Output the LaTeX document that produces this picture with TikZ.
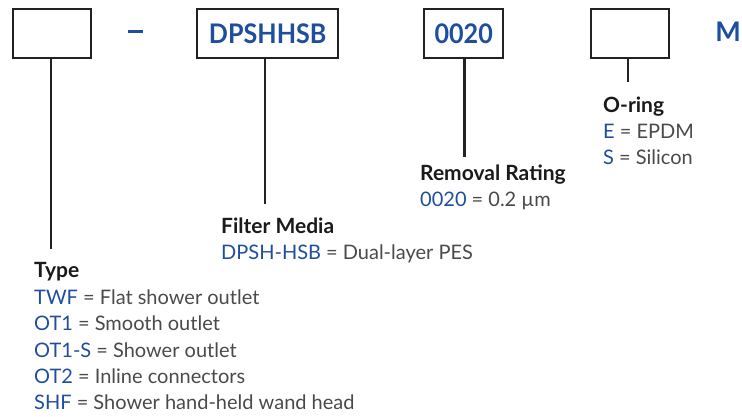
\documentclass[tikz,border=0pt]{standalone}
\usepackage{fontspec}
\setmainfont{Lato}
\definecolor{codeblue}{HTML}{1F4E9E}
\definecolor{txtgray}{HTML}{4A4A4A}
\definecolor{lblblack}{HTML}{1A1A1A}
\definecolor{boxline}{HTML}{222222}
\begin{document}
\begin{tikzpicture}[x=1pt,y=-1pt,
  codebox/.style={draw=boxline,line width=2.4pt,minimum width=78pt,minimum height=49pt,inner sep=0pt,anchor=north west,text=codeblue,font=\fontsize{27}{27}\selectfont\bfseries},
  leader/.style={draw=boxline,line width=2.4pt},
  head/.style={anchor=base west,inner sep=0pt,text=lblblack,font=\fontsize{21}{21}\selectfont\bfseries},
  entry/.style={anchor=base west,inner sep=0pt,text=txtgray,font=\fontsize{20}{20}\selectfont}]
\useasboundingbox (0,0) rectangle (742,416);
\node[codebox] (b1) at (12,8) {};
\node[codebox,minimum width=141pt] (b2) at (196,8) {\scalebox{0.93}[1]{DPSHHSB}};
\node[codebox,minimum width=79pt] (b3) at (423,8) {\scalebox{0.93}[1]{0020}};
\node[codebox] (b4) at (590,8) {};
\node[anchor=base,inner sep=0pt,text=codeblue,font=\fontsize{27}{27}\selectfont\bfseries] (m) at (728,41.5) {M};
\coordinate (d1) at (128,31.5);
\coordinate (d2) at (143,31.5);
\draw[draw=codeblue,line width=3.2pt] (d1) -- (d2);
\coordinate (e1) at (51,249);
\coordinate (e2) at (265,204);
\coordinate (e3) at (464.5,157);
\coordinate (e4) at (628,82);
\draw[leader] (b1.south -| e1) -- (e1);
\draw[leader] (b2.south -| e2) -- (e2);
\draw[leader] (b3.south -| e3) -- (e3);
\draw[leader] (b4.south -| e4) -- (e4);
% Type
\node[head] (th) at (34,277) {Type};
\node[entry] (t1) at (34,304) {\textcolor{codeblue}{TWF} = Flat shower outlet};
\node[entry] (t2) at (34,330.5) {\textcolor{codeblue}{OT1} = Smooth outlet};
\node[entry] (t3) at (34,357) {\textcolor{codeblue}{OT1-S} = Shower outlet};
\node[entry] (t4) at (34,383) {\textcolor{codeblue}{OT2} = Inline connectors};
\node[entry] (t5) at (34,409) {\textcolor{codeblue}{SHF} = Shower hand-held wand head};
% Filter media
\node[head] (fh) at (221,233) {Filter Media};
\node[entry] (f1) at (221,259) {\textcolor{codeblue}{DPSH-HSB} = Dual-layer PES};
% Removal rating
\node[head] (rh) at (420,180) {Removal Rating};
\node[entry] (r1) at (420,206) {\textcolor{codeblue}{0020} = 0.2 µm};
% O-ring
\node[head] (oh) at (603,112) {O-ring};
\node[entry] (o1) at (603,138) {\textcolor{codeblue}{E} = EPDM};
\node[entry] (o2) at (603,164) {\textcolor{codeblue}{S} = Silicon};
\end{tikzpicture}
\end{document}
